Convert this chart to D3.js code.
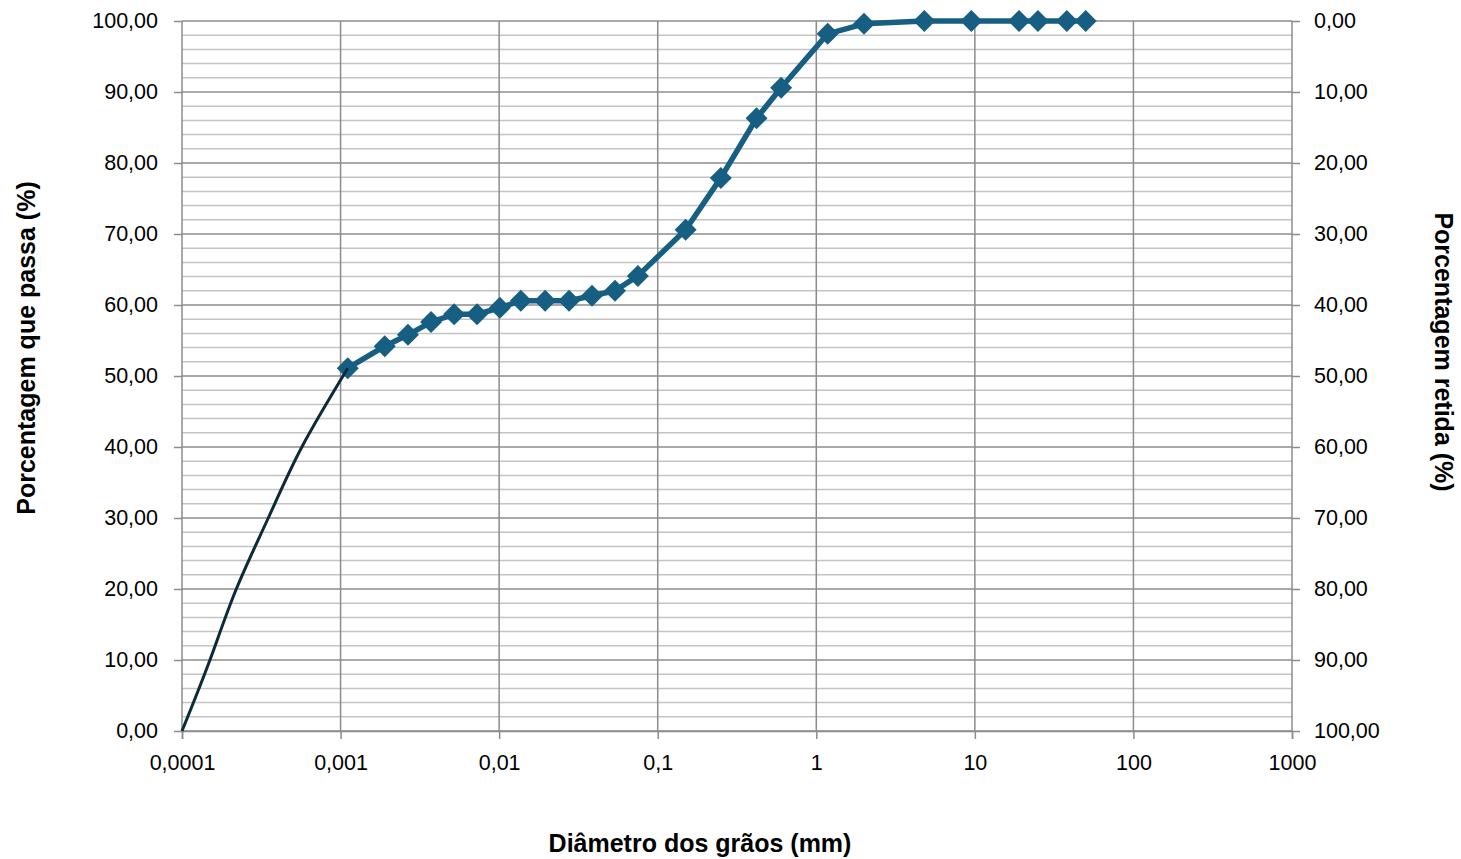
<!DOCTYPE html>
<html>
<head>
<meta charset="utf-8">
<script src="https://cdn.jsdelivr.net/npm/d3@7"></script>
<style>
  body { margin: 0; background: #fff; }
  text { font-family: "Liberation Sans", Arial, sans-serif; }
</style>
</head>
<body>
<div id="chart"></div>
<script>
// granulometric curve - sieve + sedimentation points
const diam = [0.00111, 0.0019, 0.00266, 0.00372, 0.0052, 0.00725, 0.0101, 0.0137, 0.0195, 0.0276,
              0.0385, 0.0538, 0.075, 0.15, 0.25, 0.42, 0.6, 1.18, 2.0, 4.8, 9.5, 19, 25, 38, 50];
const passa = [51.1, 54.2, 55.8, 57.6, 58.7, 58.7, 59.6, 60.6, 60.6, 60.6,
               61.3, 62.0, 64.1, 70.6, 77.9, 86.3, 90.6, 98.2, 99.6, 100, 100, 100, 100, 100, 100];

// extrapolated fine part (no markers)
const extDiam = [0.0001, 0.00015, 0.00022, 0.00035, 0.00057, 0.00111];
const extPassa = [0, 10, 20, 30, 40, 51.1];

const xTicks = [0.0001, 0.001, 0.01, 0.1, 1, 10, 100, 1000];
const xTickLabels = ["0,0001", "0,001", "0,01", "0,1", "1", "10", "100", "1000"];
const yTicks = d3.range(0, 101, 10);

const width = 1461, height = 859;
const margin = {top: 21, right: 169, bottom: 128, left: 182};

let svg = d3.select("#chart")
    .append("svg")
        .attr("width", width)
        .attr("height", height);

let xScale = d3.scaleLog()
                .domain([0.0001, 1000])
                .range([margin.left, width - margin.right]);

let yScale = d3.scaleLinear()
                .domain([0, 100])
                .range([height - margin.bottom, margin.top]);

let yRight = d3.scaleLinear()
                .domain([100, 0])
                .range([height - margin.bottom, margin.top]);

const fmt = v => d3.format(".2f")(v).replace(".", ",");

// minor horizontal grid every 2
svg.append("g")
    .selectAll("line")
    .data(d3.range(0, 101, 2).filter(d => d % 10 !== 0))
    .join("line")
        .attr("x1", margin.left).attr("x2", width - margin.right)
        .attr("y1", d => yScale(d)).attr("y2", d => yScale(d))
        .attr("stroke", "#c4c4c4")
        .attr("stroke-width", 1.5);

// major horizontal grid
svg.append("g")
    .selectAll("line")
    .data(yTicks)
    .join("line")
        .attr("x1", margin.left).attr("x2", width - margin.right)
        .attr("y1", d => yScale(d)).attr("y2", d => yScale(d))
        .attr("stroke", "#8c8c8c")
        .attr("stroke-width", 1.5);

// vertical grid
svg.append("g")
    .selectAll("line")
    .data(xTicks)
    .join("line")
        .attr("x1", d => xScale(d)).attr("x2", d => xScale(d))
        .attr("y1", margin.top).attr("y2", height - margin.bottom)
        .attr("stroke", "#8c8c8c")
        .attr("stroke-width", 1.5);

// axes
let xAxis = svg.append("g")
    .attr("transform", `translate(0, ${height - margin.bottom})`)
    .call(d3.axisBottom(xScale).tickValues(xTicks).tickFormat((d, i) => xTickLabels[i]).tickSize(8).tickPadding(16));

let yAxisL = svg.append("g")
    .attr("transform", `translate(${margin.left}, 0)`)
    .call(d3.axisLeft(yScale).tickValues(yTicks).tickFormat(fmt).tickSize(8).tickPadding(16));

let yAxisR = svg.append("g")
    .attr("transform", `translate(${width - margin.right}, 0)`)
    .call(d3.axisRight(yRight).tickValues(yTicks).tickFormat(fmt).tickSize(8).tickPadding(14));

[xAxis, yAxisL, yAxisR].forEach(a => {
    a.selectAll(".domain").attr("stroke", "#8c8c8c").attr("stroke-width", 1.5);
    a.selectAll(".tick line").attr("stroke", "#8c8c8c").attr("stroke-width", 1.5);
    a.selectAll("text").attr("font-size", "21.5px").attr("fill", "#000")
        .attr("font-family", "Liberation Sans, Arial, sans-serif");
});
yAxisR.select(".domain").remove();
yAxisL.select(".domain").remove();

// extrapolated curve
let extData = extDiam.map((d, i) => ({d: d, p: extPassa[i]}));
const extLine = d3.line().x(d => xScale(d.d)).y(d => yScale(d.p)).curve(d3.curveNatural);

// main series
let data = diam.map((d, i) => ({d: d, p: passa[i]}));
svg.append("path")
    .datum(data)
    .attr("fill", "none")
    .attr("stroke", "#175f82")
    .attr("stroke-width", 5.5)
    .attr("stroke-linejoin", "round")
    .attr("d", d3.line().x(d => xScale(d.d)).y(d => yScale(d.p)));

svg.selectAll(".marker")
    .data(data)
    .enter()
    .append("path")
        .attr("class", "marker")
        .attr("transform", d => `translate(${xScale(d.d)}, ${yScale(d.p)})`)
        .attr("d", "M0,-11L11,0L0,11L-11,0Z")
        .attr("fill", "#175f82");

svg.append("path")
    .datum(extData)
    .attr("fill", "none")
    .attr("stroke", "#0c2a3a")
    .attr("stroke-width", 3)
    .attr("d", extLine);

// titles
svg.append("text")
    .attr("x", 700)
    .attr("y", 852)
    .attr("text-anchor", "middle")
    .attr("font-size", "25px")
    .attr("font-weight", "bold")
    .text("Diâmetro dos grãos (mm)");

svg.append("text")
    .attr("transform", `translate(35, 348) rotate(-90)`)
    .attr("text-anchor", "middle")
    .attr("font-size", "25px")
    .attr("font-weight", "bold")
    .text("Porcentagem que passa (%)");

svg.append("text")
    .attr("transform", `translate(1435, 352) rotate(90)`)
    .attr("text-anchor", "middle")
    .attr("font-size", "25px")
    .attr("font-weight", "bold")
    .text("Porcentagem retida (%)");
</script>
</body>
</html>
